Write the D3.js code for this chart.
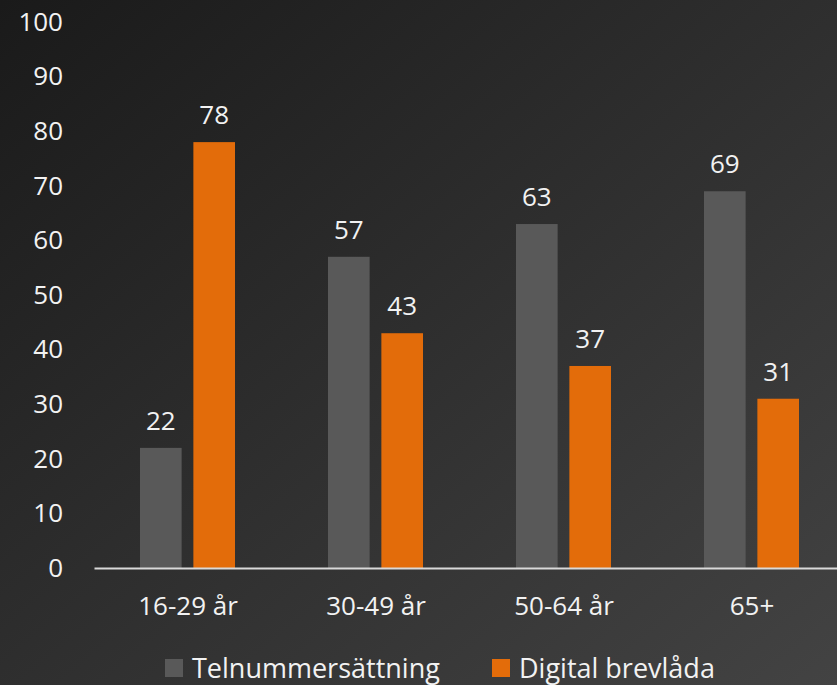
<!DOCTYPE html>
<html>
<head>
<meta charset="utf-8">
<script src="https://cdn.jsdelivr.net/npm/d3@7"></script>
<style>
  html, body { margin: 0; padding: 0; background: #2a2a2a; }
  svg { display: block; }
</style>
</head>
<body>
<svg id="chart"></svg>
<script>
// data
const categories = ["16-29 år", "30-49 år", "50-64 år", "65+"];
const seriesNames = ["Telnummersättning", "Digital brevlåda"];
const telnummer = [22, 57, 63, 69];
const brevlada = [78, 43, 37, 31];
const yTicks = [0, 10, 20, 30, 40, 50, 60, 70, 80, 90, 100];

const colors = ["#595959", "#e36c0a"];
const font = "'Open Sans', sans-serif";

const w = 837, h = 685;
const svg = d3.select("#chart").attr("width", w).attr("height", h);

// background gradient
const grad = svg.append("defs").append("linearGradient")
  .attr("id", "bg").attr("x1", 0).attr("y1", 0).attr("x2", 1).attr("y2", 1);
grad.append("stop").attr("offset", "0%").attr("stop-color", "#1a1a1a");
grad.append("stop").attr("offset", "100%").attr("stop-color", "#434343");
svg.append("rect").attr("width", w).attr("height", h).attr("fill", "url(#bg)");

// scales
const x = d3.scaleBand().domain(categories).range([94, 846]).padding(0);
const x1 = d3.scaleBand().domain(seriesNames).range([46, 141]).paddingInner(0.22);
const y = d3.scaleLinear().domain([0, 100]).range([568, 22]);

const rows = categories.map((c, i) => ({cat: c, vals: [telnummer[i], brevlada[i]]}));

// y axis labels
const yAxis = svg.append("g")
  .attr("transform", "translate(70,0)")
  .call(d3.axisLeft(y).tickValues(yTicks).tickSize(0).tickPadding(7));
yAxis.select(".domain").remove();
yAxis.selectAll("text")
  .attr("fill", "#f2f2f2")
  .style("font-family", font)
  .style("font-size", "26px");

// bars
const groups = svg.selectAll(".grp").data(rows).join("g")
  .attr("transform", d => `translate(${x(d.cat)},0)`);

groups.selectAll("rect").data(d => d.vals.map((v, j) => ({name: seriesNames[j], v, j})))
  .join("rect")
  .attr("x", d => x1(d.name))
  .attr("width", x1.bandwidth())
  .attr("y", d => y(d.v))
  .attr("height", d => y(0) - y(d.v))
  .attr("fill", d => colors[d.j]);

groups.selectAll(".val").data(d => d.vals.map((v, j) => ({name: seriesNames[j], v})))
  .join("text")
  .attr("class", "val")
  .attr("x", d => x1(d.name) + x1.bandwidth() / 2)
  .attr("y", d => y(d.v) - 18)
  .attr("text-anchor", "middle")
  .attr("fill", "#f2f2f2")
  .style("font-family", font)
  .style("font-size", "26px")
  .text(d => d.v);

// x axis
const xAxis = svg.append("g")
  .attr("transform", `translate(0,${y(0)})`)
  .call(d3.axisBottom(x).tickSize(0).tickPadding(29));
xAxis.select(".domain").attr("stroke", "#d9d9d9").attr("stroke-width", 2);
xAxis.selectAll("text")
  .attr("fill", "#f2f2f2")
  .style("font-family", font)
  .style("font-size", "26px");

// legend
const legendX = [165, 492];
const legend = svg.selectAll(".leg").data(seriesNames).join("g")
  .attr("transform", (d, i) => `translate(${legendX[i]},659)`);
legend.append("rect").attr("width", 18).attr("height", 18).attr("fill", (d, i) => colors[i]);
legend.append("text")
  .attr("x", 27).attr("y", 19)
  .attr("fill", "#f2f2f2")
  .style("font-family", font)
  .style("font-size", "27px")
  .text(d => d);
</script>
</body>
</html>
